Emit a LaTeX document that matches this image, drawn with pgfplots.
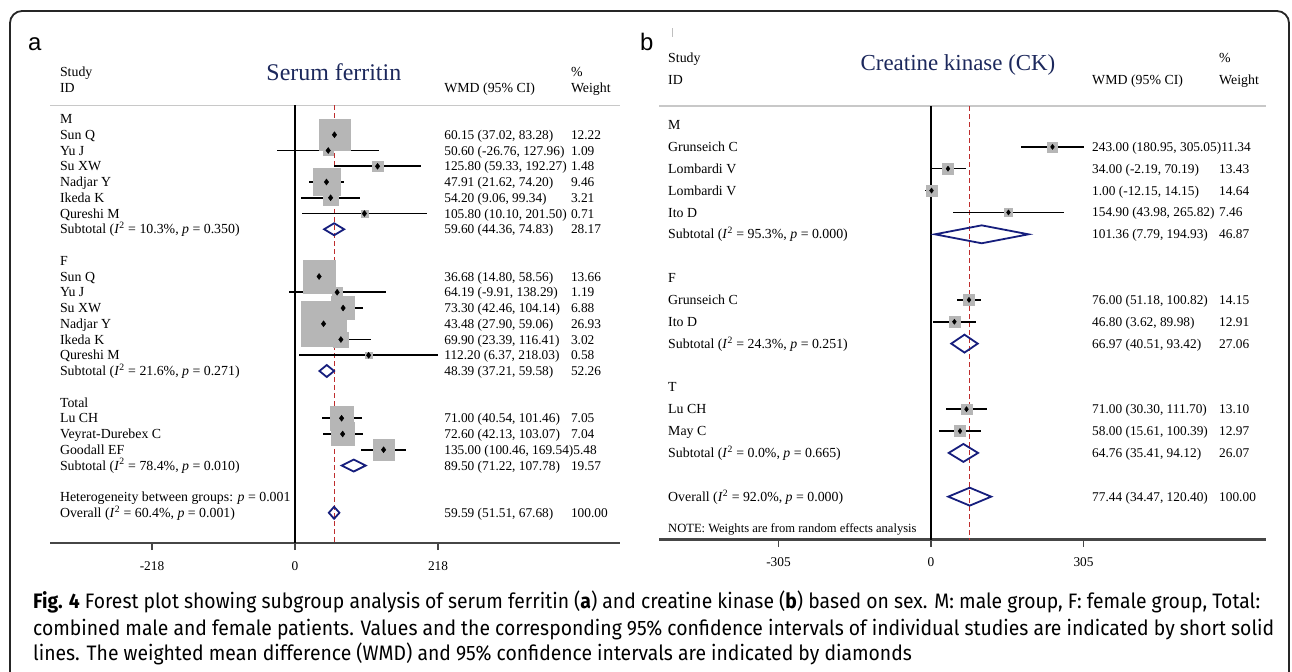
\documentclass[border=0pt]{standalone}
\usepackage{pgfplots}
\pgfplotsset{compat=1.18}
\usepackage{pgfplotstable}
\usepackage{graphicx}
\usepackage{fontspec}
\setmainfont{Liberation Serif}
\newfontfamily\capfont{Fira Sans}
\newfontfamily\labfont{Liberation Sans}
\definecolor{navy}{RGB}{28,40,92}
\definecolor{dmd}{RGB}{22,30,125}
\definecolor{boxg}{RGB}{182,182,182}
\definecolor{refred}{RGB}{190,45,45}
\definecolor{axg}{RGB}{70,70,70}
\definecolor{topg}{RGB}{200,200,200}
\newsavebox\capA
\newsavebox\capB
\newsavebox\capC
\newlength\capw
\newcommand\rt{\fontsize{13.9}{15}\selectfont}
\newcommand\nt{\fontsize{13.4}{15}\selectfont}
\newcommand\Isq{\textit{I}\textsuperscript{2}}
\newcommand\rowtext[3]{\node[anchor=base west, inner sep=0pt, font=\rt, yshift=-4.6bp] at (axis cs:#1,#2) {#3};}
\newcommand\numtext[3]{\node[anchor=base west, inner sep=0pt, font=\nt, yshift=-4.5bp] at (axis cs:#1,#2) {#3};}
% rows: row, label, wmd, weight
\newcommand\RA[4]{\rowtext{-358.5}{-#1}{#2}\numtext{227.3}{-#1}{#3}\numtext{420.4}{-#1}{#4}}
\newcommand\RB[4]{\rowtext{-526}{-#1}{#2}\numtext{322}{-#1}{#3}\numtext{576}{-#1}{#4}}

\pgfplotstableread{
row est lo hi w
1 60.15 37.02 83.28 12.22
2 50.60 -26.76 127.96 1.09
3 125.80 59.33 192.27 1.48
4 47.91 21.62 74.20 9.46
5 54.20 9.06 99.34 3.21
6 105.80 10.10 201.50 0.71
10 36.68 14.80 58.56 13.66
11 64.19 -9.91 138.29 1.19
12 73.30 42.46 104.14 6.88
13 43.48 27.90 59.06 26.93
14 69.90 23.39 116.41 3.02
15 112.20 6.37 218.03 0.58
19 71.00 40.54 101.46 7.05
20 72.60 42.13 103.07 7.04
21 135.00 100.46 169.54 5.48
}\studA

\pgfplotstableread{
row est lo hi w
1 243.00 180.95 305.05 11.34
2 34.00 -2.19 70.19 13.43
3 1.00 -12.15 14.15 14.64
4 154.90 43.98 265.82 7.46
8 76.00 51.18 100.82 14.15
9 46.80 3.62 89.98 12.91
13 71.00 30.30 111.70 13.10
14 58.00 15.61 100.39 12.97
}\studB

\pgfplotsset{
 forest/.style={
  scale only axis, clip=false, enlargelimits=false,
  axis x line=bottom, axis y line=none,
  x axis line style={-, draw=axg, line width=2.2bp},
  ytick=\empty,
  tick align=outside, major tick length=7bp,
  xtick style={draw=axg, line width=1.4bp},
  xticklabel style={font=\nt, inner sep=0pt, anchor=north, yshift=-11bp},
 }
}

\begin{document}%
\sbox\capA{\capfont\fontsize{21}{24}\selectfont\textbf{Fig. 4} Forest plot showing subgroup analysis of serum ferritin (\textbf{a}) and creatine kinase (\textbf{b}) based on sex. M: male group, F: female group, Total:}%
\sbox\capB{\capfont\fontsize{21}{24}\selectfont combined male and female patients. Values and the corresponding 95\% confidence intervals of individual studies are indicated by short solid}%
\sbox\capC{\capfont\fontsize{21}{24}\selectfont lines. The weighted mean difference (WMD) and 95\% confidence intervals are indicated by diamonds}%
\setlength\capw{\wd\capA}%
\pgfmathsetmacro\capscale{1231.6/\capw}%
\begin{tikzpicture}
\useasboundingbox (0,0) rectangle (1292bp,-672bp);
\begin{scope}[x=1bp,y=-1bp]
 \fill[white] (0,0) rectangle (1292,672);
 \draw[line width=1.8bp, black!85, rounded corners=12bp] (10,672) -- (10,11) -- (1289,11) -- (1289,672);
 \node[anchor=base west, inner sep=0pt, font=\labfont\fontsize{24}{24}\selectfont] at (28,50) {a};
 \node[anchor=base west, inner sep=0pt, font=\labfont\fontsize{24}{24}\selectfont] at (640,50) {b};
 \draw[black!25, line width=1bp] (672,28) -- (672,37);
 \node[anchor=base west, inner sep=0pt, text=black!90] at (33,608.5) {\scalebox{\capscale}[1]{\usebox\capA}};
 \node[anchor=base west, inner sep=0pt, text=black!90] at (33,635) {\scalebox{\capscale}[1]{\usebox\capB}};
 \node[anchor=base west, inner sep=0pt, text=black!90] at (33,660.5) {\scalebox{\capscale}[1]{\usebox\capC}};
\end{scope}

% ---------------- panel a ----------------
\begin{axis}[forest,
 at={(50.2bp,-105.3bp)}, anchor=north west,
 width=570.2bp, height=437.7bp,
 xmin=-373.2, xmax=496.0, ymin=-26.92, ymax=0.870,
 xtick={-218,0,218}, xticklabels={-218,0,218},
]
\addplot[topg, line width=1.5bp] coordinates {(-373.2,0.870) (496.0,0.870)};
\addplot[black, line width=1.2bp] coordinates {(0,0.870) (0,-26.92)};
\addplot[refred, line width=1.2bp, dash pattern=on 5bp off 3bp] coordinates {(59.59,0.870) (59.59,-26.92)};
\addplot[scatter, only marks, mark=square*, scatter/use mapped color={draw=boxg, fill=boxg},
 visualization depends on={4.4*sqrt(\thisrow{w}) \as \ms},
 scatter/@pre marker code/.append style={/tikz/mark size=\ms}]
 table[x=est, y expr=-\thisrow{row}] {\studA};
\addplot[only marks, mark=diamond*, mark size=3, black,
 error bars/.cd, x dir=both, x explicit, error mark=none,
 error bar style={line width=1.6bp, black}]
 table[x=est, y expr=-\thisrow{row}, x error plus expr=\thisrow{hi}-\thisrow{est}, x error minus expr=\thisrow{est}-\thisrow{lo}] {\studA};
\addplot[dmd, line width=1.8bp] coordinates {(44.36,-7) (59.60,-6.62) (74.83,-7) (59.60,-7.38)} -- cycle;
\addplot[dmd, line width=1.8bp] coordinates {(37.21,-16) (48.39,-15.62) (59.58,-16) (48.39,-16.38)} -- cycle;
\addplot[dmd, line width=1.8bp] coordinates {(71.22,-22) (89.50,-21.62) (107.78,-22) (89.50,-22.38)} -- cycle;
\addplot[dmd, line width=1.8bp] coordinates {(51.51,-25) (59.59,-24.62) (67.68,-25) (59.59,-25.38)} -- cycle;
% header
\node[anchor=base, inner sep=0pt, font=\fontsize{24}{24}\selectfont, text=navy] at (axis cs:59.2,2.984) [yshift=-8bp] {Serum ferritin};
\rowtext{-358.5}{2.984}{Study}
\rowtext{-358.5}{2.0}{ID}
\rowtext{227.3}{2.0}{WMD (95\% CI)}
\rowtext{420.4}{2.984}{\%}
\rowtext{420.4}{2.0}{Weight}
% rows
\rowtext{-358.5}{0}{M}
\RA{1}{Sun Q}{60.15 (37.02, 83.28)}{12.22}
\RA{2}{Yu J}{50.60 (-26.76, 127.96)}{1.09}
\RA{3}{Su XW}{125.80 (59.33, 192.27)}{1.48}
\RA{4}{Nadjar Y}{47.91 (21.62, 74.20)}{9.46}
\RA{5}{Ikeda K}{54.20 (9.06, 99.34)}{3.21}
\RA{6}{Qureshi M}{105.80 (10.10, 201.50)}{0.71}
\RA{7}{Subtotal (\Isq{} = 10.3\%, \textit{p} = 0.350)}{59.60 (44.36, 74.83)}{28.17}
\rowtext{-358.5}{-9}{F}
\RA{10}{Sun Q}{36.68 (14.80, 58.56)}{13.66}
\RA{11}{Yu J}{64.19 (-9.91, 138.29)}{1.19}
\RA{12}{Su XW}{73.30 (42.46, 104.14)}{6.88}
\RA{13}{Nadjar Y}{43.48 (27.90, 59.06)}{26.93}
\RA{14}{Ikeda K}{69.90 (23.39, 116.41)}{3.02}
\RA{15}{Qureshi M}{112.20 (6.37, 218.03)}{0.58}
\RA{16}{Subtotal (\Isq{} = 21.6\%, \textit{p} = 0.271)}{48.39 (37.21, 59.58)}{52.26}
\rowtext{-358.5}{-18}{Total}
\RA{19}{Lu CH}{71.00 (40.54, 101.46)}{7.05}
\RA{20}{Veyrat-Durebex C}{72.60 (42.13, 103.07)}{7.04}
\rowtext{-358.5}{-21}{Goodall EF}
\numtext{227.3}{-21}{135.00 (100.46, 169.54)5.48}
\RA{22}{Subtotal (\Isq{} = 78.4\%, \textit{p} = 0.010)}{89.50 (71.22, 107.78)}{19.57}
\rowtext{-358.5}{-24}{Heterogeneity between groups: \textit{p} = 0.001}
\RA{25}{Overall (\Isq{} = 60.4\%, \textit{p} = 0.001)}{59.59 (51.51, 67.68)}{100.00}
\end{axis}

% ---------------- panel b ----------------
\begin{axis}[forest,
 at={(659bp,-106bp)}, anchor=north west,
 width=607bp, height=433.5bp,
 xmin=-544, xmax=670, ymin=-18.96, ymax=0.869,
 xtick={-305,0,305}, xticklabels={-305,0,305},
]
\addplot[topg, line width=1.5bp] coordinates {(-544,0.869) (670,0.869)};
\addplot[black, line width=1.2bp] coordinates {(0,0.869) (0,-18.96)};
\addplot[refred, line width=1.2bp, dash pattern=on 5bp off 3bp] coordinates {(77.44,0.869) (77.44,-18.96)};
\addplot[scatter, only marks, mark=square*, scatter/use mapped color={draw=boxg, fill=boxg},
 visualization depends on={1.5*sqrt(\thisrow{w}) \as \ms},
 scatter/@pre marker code/.append style={/tikz/mark size=\ms}]
 table[x=est, y expr=-\thisrow{row}] {\studB};
\addplot[only marks, mark=diamond*, mark size=2.6, black,
 error bars/.cd, x dir=both, x explicit, error mark=none,
 error bar style={line width=1.5bp, black}]
 table[x=est, y expr=-\thisrow{row}, x error plus expr=\thisrow{hi}-\thisrow{est}, x error minus expr=\thisrow{est}-\thisrow{lo}] {\studB};
\addplot[dmd, line width=1.8bp] coordinates {(7.79,-5) (101.36,-4.59) (194.93,-5) (101.36,-5.41)} -- cycle;
\addplot[dmd, line width=1.8bp] coordinates {(40.51,-10) (66.97,-9.59) (93.42,-10) (66.97,-10.41)} -- cycle;
\addplot[dmd, line width=1.8bp] coordinates {(35.41,-15) (64.76,-14.59) (94.12,-15) (64.76,-15.41)} -- cycle;
\addplot[dmd, line width=1.8bp] coordinates {(34.47,-17) (77.44,-16.59) (120.40,-17) (77.44,-17.41)} -- cycle;
% header
\node[anchor=base, inner sep=0pt, font=\fontsize{23}{23}\selectfont, text=navy] at (axis cs:54,2.836) [yshift=-7.6bp] {Creatine kinase (CK)};
\rowtext{-526}{3.065}{Study}
\rowtext{-526}{2.06}{ID}
\rowtext{322}{2.06}{WMD (95\% CI)}
\rowtext{576}{3.065}{\%}
\rowtext{576}{2.06}{Weight}
% rows
\rowtext{-526}{0}{M}
\rowtext{-526}{-1}{Grunseich C}
\numtext{322}{-1}{243.00 (180.95, 305.05)11.34}
\RB{2}{Lombardi V}{34.00 (-2.19, 70.19)}{13.43}
\RB{3}{Lombardi V}{1.00 (-12.15, 14.15)}{14.64}
\RB{4}{Ito D}{154.90 (43.98, 265.82)}{7.46}
\RB{5}{Subtotal (\Isq{} = 95.3\%, \textit{p} = 0.000)}{101.36 (7.79, 194.93)}{46.87}
\rowtext{-526}{-7}{F}
\RB{8}{Grunseich C}{76.00 (51.18, 100.82)}{14.15}
\RB{9}{Ito D}{46.80 (3.62, 89.98)}{12.91}
\RB{10}{Subtotal (\Isq{} = 24.3\%, \textit{p} = 0.251)}{66.97 (40.51, 93.42)}{27.06}
\rowtext{-526}{-12}{T}
\RB{13}{Lu CH}{71.00 (30.30, 111.70)}{13.10}
\RB{14}{May C}{58.00 (15.61, 100.39)}{12.97}
\RB{15}{Subtotal (\Isq{} = 0.0\%, \textit{p} = 0.665)}{64.76 (35.41, 94.12)}{26.07}
\RB{17}{Overall (\Isq{} = 92.0\%, \textit{p} = 0.000)}{77.44 (34.47, 120.40)}{100.00}
\node[anchor=base west, inner sep=0pt, font=\fontsize{12.6}{14}\selectfont, yshift=-4.2bp] at (axis cs:-526,-18.45) {NOTE: Weights are from random effects analysis};
\end{axis}
\end{tikzpicture}
\end{document}
